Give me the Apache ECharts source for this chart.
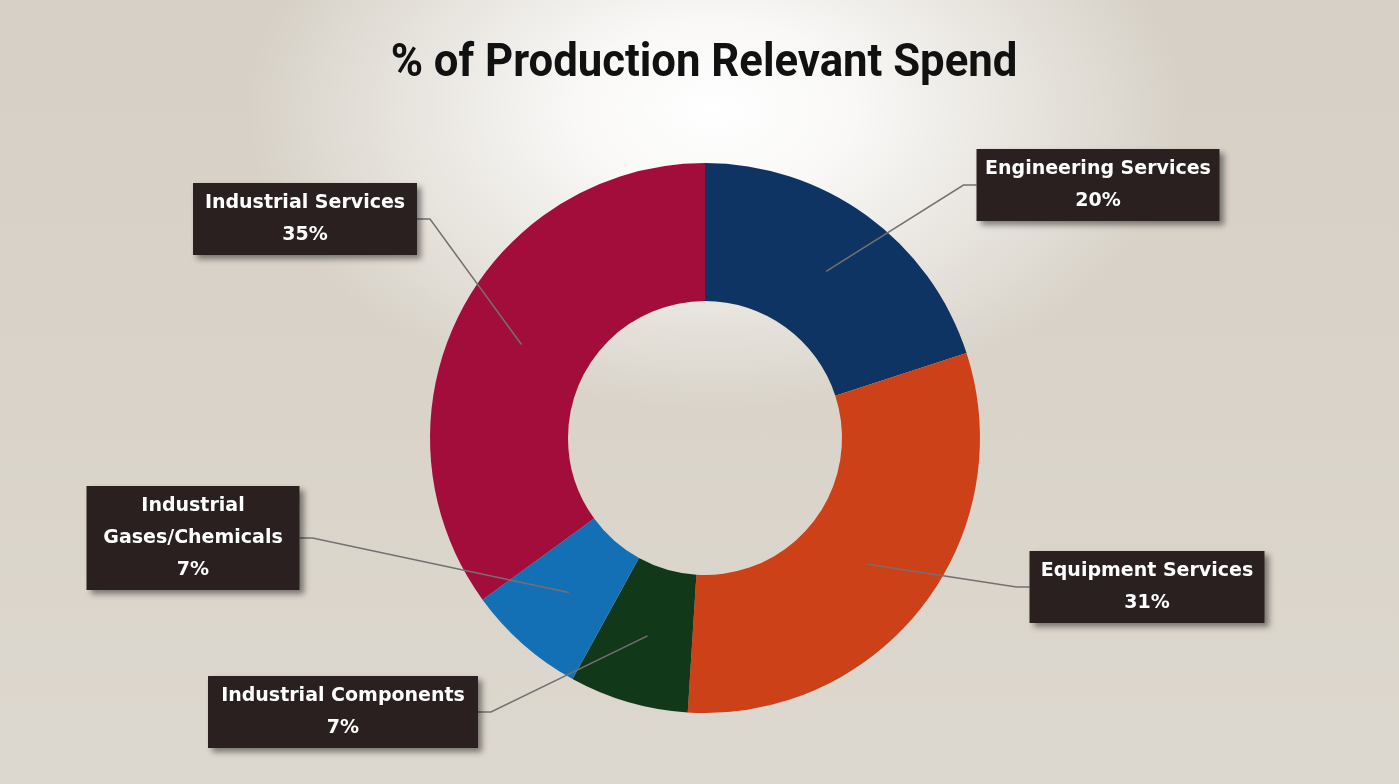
<!DOCTYPE html>
<html>
<head>
<meta charset="utf-8">
<script src="https://cdn.jsdelivr.net/npm/echarts@6/dist/echarts.min.js"></script>
<style>
  html, body { margin: 0; padding: 0; }
  body {
    width: 1399px; height: 784px; overflow: hidden;
    background:
      radial-gradient(ellipse 470px 300px at 715px 110px, rgba(255,255,255,1) 0%, rgba(255,255,255,0.85) 30%, rgba(255,255,255,0) 100%),
      linear-gradient(180deg, #d6d0c6 0%, #d9d3c9 50%, #ddd8cf 100%);
  }
  #chart { width: 1399px; height: 784px; }
</style>
</head>
<body>
<div id="chart"></div>
<script>
// ---- data ----
const titleText = '% of Production Relevant Spend';
const categories = ['Engineering Services', 'Equipment Services', 'Industrial Components', 'Industrial\nGases/Chemicals', 'Industrial Services'];
const values = [20, 31, 7, 7, 35];
const colors = ['#0d3463', '#cc4118', '#12381a', '#1470b5', '#a30d3c'];

// ---- label box layout (center x, center y, box width) ----
const labelBoxes = [
  { x: 1098, y: 185, w: 243 },
  { x: 1147, y: 587, w: 235 },
  { x: 343,  y: 712, w: 270 },
  { x: 193,  y: 538, w: 213 },
  { x: 305,  y: 219, w: 224 }
];

const chart = echarts.init(document.getElementById('chart'), null, { renderer: 'canvas' });

const ringData = categories.map((name, i) => ({
  name: name,
  value: values[i],
  itemStyle: { color: colors[i] }
}));

const labelData = categories.map((name, i) => ({
  name: name,
  value: values[i],
  label: { width: labelBoxes[i].w }
}));

const pieCommon = {
  type: 'pie',
  center: [705, 438],
  radius: [137, 275],
  startAngle: 90,
  clockwise: true,
  avoidLabelOverlap: false,
  emphasis: { disabled: true },
  silent: true
};

const option = {
  backgroundColor: 'transparent',
  animation: false,
  graphic: [{
    type: 'text',
    x: 704,
    y: 64,
    scaleX: 0.95,
    style: {
      text: titleText,
      align: 'center',
      verticalAlign: 'middle',
      font: 'bold 46px Roboto',
      fill: '#111111'
    }
  }],
  series: [
    Object.assign({}, pieCommon, {
      z: 2,
      data: ringData,
      label: { show: false },
      labelLine: { show: false }
    }),
    Object.assign({}, pieCommon, {
      z: 3,
      data: labelData,
      itemStyle: { color: 'rgba(0,0,0,0)' },
      label: {
        show: true,
        position: 'outer',
        formatter: '{b}\n{c}%',
        color: '#ffffff',
        fontFamily: 'DejaVu Sans',
        fontWeight: 'bold',
        fontSize: 19,
        lineHeight: 32,
        align: 'center',
        backgroundColor: '#2a2020',
        padding: [4, 0],
        shadowColor: 'rgba(0,0,0,0.45)',
        shadowBlur: 6,
        shadowOffsetX: 4,
        shadowOffsetY: 4
      },
      labelLine: {
        show: true,
        showAbove: true,
        smooth: false,
        lineStyle: { color: '#747070', width: 1.5, opacity: 1 }
      },
      labelLayout: function (params) {
        const i = params.dataIndex;
        const box = labelBoxes[i];
        const lay = chart.getModel().getSeriesByIndex(1).getData().getItemLayout(i);
        const mid = (lay.startAngle + lay.endAngle) / 2;
        const rm = (lay.r + lay.r0) / 2;
        const sx = lay.cx + rm * Math.cos(mid);
        const sy = lay.cy + rm * Math.sin(mid);
        const side = box.x < lay.cx ? 1 : -1;
        const edgeX = box.x + side * box.w / 2;
        const elbowX = edgeX + side * 13;
        return {
          x: box.x,
          y: box.y,
          align: 'center',
          verticalAlign: 'middle',
          labelLinePoints: [[sx, sy], [elbowX, box.y], [edgeX, box.y]]
        };
      }
    })
  ]
};

chart.setOption(option);
</script>
</body>
</html>
